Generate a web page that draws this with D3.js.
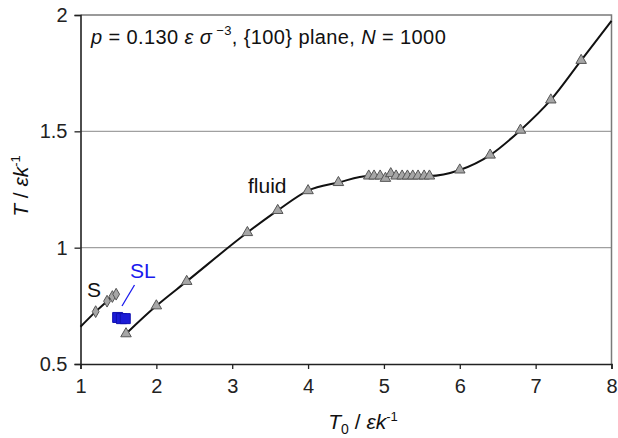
<!DOCTYPE html>
<html>
<head>
<meta charset="utf-8">
<script src="https://cdn.jsdelivr.net/npm/d3@7"></script>
<style>
  html, body { margin: 0; padding: 0; background: #fff; }
  svg { display: block; font-family: "Liberation Sans", Arial, sans-serif; }
</style>
</head>
<body>
<svg id="chart" width="618" height="438"></svg>
<script>
// Fluid branch: initial temperature T0 vs. resulting temperature T
const fluidT0 = [1.6, 2.0, 2.4, 3.2, 3.6, 4.0, 4.4,
  4.8, 4.87, 4.95, 5.02, 5.09, 5.16, 5.24, 5.31, 5.38, 5.45, 5.53, 5.6,
  6.0, 6.4, 6.8, 7.2, 7.6];
const fluidT = [0.63, 0.75, 0.855, 1.065, 1.16, 1.245, 1.28,
  1.308, 1.308, 1.308, 1.298, 1.318, 1.308, 1.308, 1.308, 1.308, 1.308, 1.308, 1.308,
  1.334, 1.398, 1.505, 1.635, 1.805];
// fitted trend continues past the last run to the edge of the axis
const fluidTrendT0 = [8.0];
const fluidTrendT = [1.975];

// Solid branch
const solidT0 = [1.2, 1.35, 1.42, 1.47];
const solidT = [0.725, 0.77, 0.79, 0.80];
// fitted trend continues back to T0 = 1
const solidTrendT0 = [1.0];
const solidTrendT = [0.66];

// Solid–liquid coexistence runs
const slT0 = [1.49, 1.54, 1.59];
const slT = [0.70, 0.695, 0.695];

// Axis ticks
const xTicks = [1, 2, 3, 4, 5, 6, 7, 8];
const yTicks = [0.5, 1, 1.5, 2];
const gridTicks = [1, 1.5];

const svg = d3.select("#chart");
const plotLeft = 80.5, plotRight = 611.5, plotTop = 15, plotBottom = 364;
const fs = "20px";

const x = d3.scaleLinear().domain([1, 8]).range([plotLeft, plotRight]);
const y = d3.scaleLinear().domain([0.5, 2]).range([plotBottom, plotTop]);

// horizontal gridlines
svg.append("g").selectAll("line").data(gridTicks).join("line")
  .attr("x1", plotLeft).attr("x2", plotRight)
  .attr("y1", d => y(d)).attr("y2", d => y(d))
  .attr("stroke", "#a0a0a0").attr("stroke-width", 1.3);

// frame (top and right)
svg.append("path")
  .attr("d", `M${plotLeft},${plotTop}H${plotRight}V${plotBottom}`)
  .attr("fill", "none").attr("stroke", "#7a7a7a").attr("stroke-width", 1.5);

// axes
const xAxis = svg.append("g").attr("transform", `translate(0,${plotBottom})`)
  .call(d3.axisBottom(x).tickValues(xTicks).tickFormat(d3.format("d")).tickSize(5).tickPadding(10));
const yAxis = svg.append("g").attr("transform", `translate(${plotLeft},0)`)
  .call(d3.axisLeft(y).tickValues(yTicks).tickFormat(d => d).tickSize(6).tickPadding(7));
[xAxis, yAxis].forEach(g => {
  g.select(".domain").attr("stroke", "#222").attr("stroke-width", 1.6);
  g.selectAll(".tick line").attr("stroke", "#222").attr("stroke-width", 1.3);
  g.selectAll(".tick text").attr("fill", "#222").style("font-size", fs)
    .style("font-family", "'Liberation Sans', Arial, sans-serif");
});

// trend lines
const line = d3.line().x(d => x(d[0])).y(d => y(d[1])).curve(d3.curveMonotoneX);
const fluidLine = d3.zip(fluidT0.concat(fluidTrendT0), fluidT.concat(fluidTrendT));
const solidLine = d3.zip(solidTrendT0.concat(solidT0), solidTrendT.concat(solidT));
svg.append("path").datum(fluidLine).attr("d", line)
  .attr("fill", "none").attr("stroke", "#111").attr("stroke-width", 2);
svg.append("path").datum(solidLine).attr("d", line)
  .attr("fill", "none").attr("stroke", "#111").attr("stroke-width", 2);

// markers
const tri = d3.symbol().type(d3.symbolTriangle).size(48);
svg.append("g").selectAll("path").data(d3.zip(fluidT0, fluidT)).join("path")
  .attr("d", tri)
  .attr("transform", d => `translate(${x(d[0])},${y(d[1])})`)
  .attr("fill", "#a6a6a6").attr("stroke", "#555").attr("stroke-width", 1);

const dia = d3.symbol().type(d3.symbolDiamond).size(40);
svg.append("g").selectAll("path").data(d3.zip(solidT0, solidT)).join("path")
  .attr("d", dia)
  .attr("transform", d => `translate(${x(d[0])},${y(d[1])})`)
  .attr("fill", "#a6a6a6").attr("stroke", "#555").attr("stroke-width", 1);

const sq = d3.symbol().type(d3.symbolSquare).size(100);
svg.append("g").selectAll("path").data(d3.zip(slT0, slT)).join("path")
  .attr("d", sq)
  .attr("transform", d => `translate(${x(d[0])},${y(d[1])})`)
  .attr("fill", "#1c1cd6").attr("stroke", "#1010b0").attr("stroke-width", 1);

// labels
svg.append("text").attr("x", 248).attr("y", 193).text("fluid")
  .style("font-size", "21px").attr("fill", "#111");
svg.append("text").attr("x", 87).attr("y", 297).text("S")
  .style("font-size", "21px").attr("fill", "#111");
svg.append("text").attr("x", 130).attr("y", 278).text("SL")
  .style("font-size", "21px").attr("fill", "#1a1aee");
svg.append("line")
  .attr("x1", 134.5).attr("y1", 285).attr("x2", 122).attr("y2", 306)
  .attr("stroke", "#1a1aee").attr("stroke-width", 1.3);

// header annotation
const head = svg.append("text").attr("x", 91).attr("y", 44)
  .style("font-size", fs).style("letter-spacing", "0.4px").attr("fill", "#111");
head.append("tspan").style("font-style", "italic").text("p");
head.append("tspan").text(" = 0.130 ");
head.append("tspan").style("font-style", "italic").text("ε σ");
head.append("tspan").attr("dy", -9).style("font-size", "13px").text(" −3");
head.append("tspan").attr("dy", 9).text(", {100} plane, ");
head.append("tspan").style("font-style", "italic").text("N");
head.append("tspan").text(" = 1000");

// x-axis title
const xt = svg.append("text").attr("x", 363).attr("y", 429).attr("text-anchor", "middle")
  .style("font-size", "21px").attr("fill", "#111");
xt.append("tspan").style("font-style", "italic").text("T");
xt.append("tspan").attr("dy", 5).style("font-size", "14px").text("0");
xt.append("tspan").attr("dy", -5).text(" / ");
xt.append("tspan").style("font-style", "italic").text("εk");
xt.append("tspan").attr("dy", -8).style("font-size", "13px").text("-1");

// y-axis title
const yt = svg.append("text")
  .attr("transform", "translate(28,186) rotate(-90)").attr("text-anchor", "middle")
  .style("font-size", "21px").attr("fill", "#111");
yt.append("tspan").style("font-style", "italic").text("T");
yt.append("tspan").text(" / ");
yt.append("tspan").style("font-style", "italic").text("εk");
yt.append("tspan").attr("dy", -8).style("font-size", "13px").text("-1");
</script>
</body>
</html>
